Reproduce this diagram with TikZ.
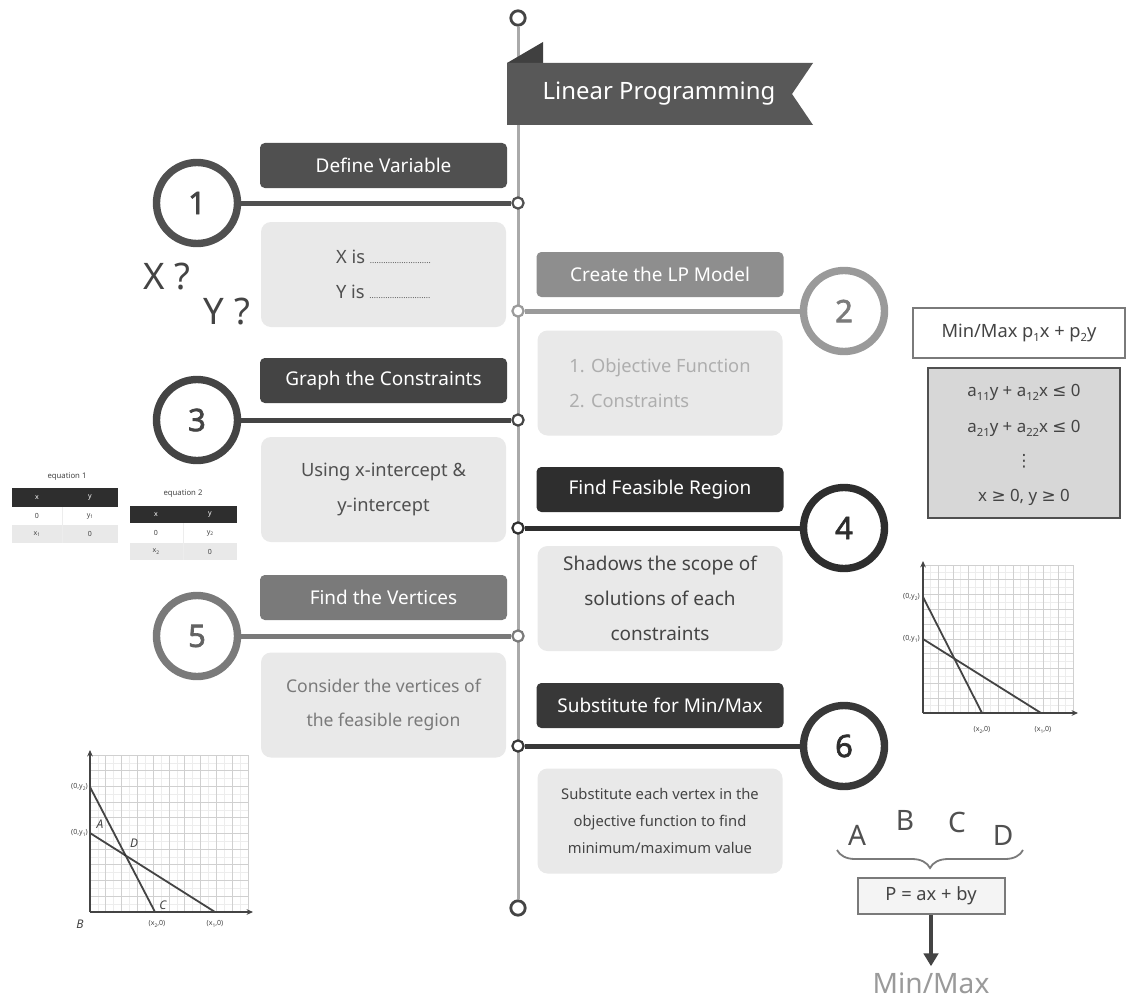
\documentclass[tikz,border=0pt]{standalone}
\usepackage{fontspec}
\setmainfont{Noto Sans}
\newfontfamily\symf{DejaVu Sans}
\newfontfamily\digf{Noto Sans}[FakeBold=2.2]
\usetikzlibrary{arrows.meta,decorations.pathreplacing,shapes.geometric}
\definecolor{spinec}{HTML}{AAAAAA}
\definecolor{bodyfill}{HTML}{E9E9E9}
\definecolor{sa}{HTML}{505050}
\definecolor{sb}{HTML}{9A9A9A}
\definecolor{sc}{HTML}{444444}
\definecolor{sd}{HTML}{2E2E2E}
\definecolor{se}{HTML}{7A7A7A}
\definecolor{sf}{HTML}{383838}
\definecolor{bannerc}{HTML}{585858}
\definecolor{bannerd}{HTML}{404040}
\definecolor{gridc}{HTML}{D0D0D0}
\definecolor{gridf}{HTML}{EDEDED}
\newcommand\sbx[1]{\raisebox{-0.45ex}{\fontsize{8}{8}\selectfont #1}}
\newcommand\tsb[1]{\raisebox{-0.35ex}{\fontsize{3.5}{3.5}\selectfont #1}}
\begin{document}
\begin{tikzpicture}[x=0.25mm,y=-0.25mm,
  circ/.style={circle, inner sep=0pt, minimum size=20.25mm, line width=1.85mm, fill=white, font=\fontsize{22}{22}\digf},
  sdot/.style={circle, inner sep=0pt, minimum size=2.8mm, line width=0.55mm, fill=white},
  enddot/.style={circle, inner sep=0pt, minimum size=3.6mm, line width=0.7mm, draw=sc, fill=white},
  conn/.style={line width=1.25mm},
  ttl/.style={rounded corners=1.2mm, minimum width=61.75mm, minimum height=11.25mm, inner sep=0pt, text=white, font=\fontsize{13.5}{16}\selectfont},
  bdy/.style={rounded corners=2.5mm, fill=bodyfill, minimum width=61.25mm, minimum height=26.25mm, inner sep=0pt, align=center, font=\fontsize{13}{25}\selectfont},
  big/.style={inner sep=0pt, text=sc, font=\fontsize{26}{26}\selectfont},
  tiny/.style={inner sep=0pt, text=sc, font=\fontsize{5}{5}\selectfont},
  cell/.style={inner sep=0pt, font=\fontsize{5}{5}\selectfont},
  axis/.style={line width=0.5mm, draw=sc, -{Stealth[length=1.6mm,width=1.4mm]}},
  gline/.style={line width=0.45mm, draw=sc}
]
\useasboundingbox[fill=white] (0,0) rectangle (1127,1003);

% spine
\node[enddot] (top) at (518,18) {};
\node[enddot] (bot) at (518,908) {};
\draw[spinec, line width=0.75mm] (top) -- (bot);

% banner
\fill[bannerd] (507,63) -- (543,42) -- (543,63) -- cycle;
\fill[bannerc] (507,63) -- (813,63) -- (792,94) -- (813,125) -- (507,125) -- cycle;
\node[inner sep=0pt, text=white, font=\fontsize{17}{17}\selectfont] (lp) at (659,94) {Linear Programming};

% step 1
\node[ttl, fill=sa] (t1) at (383.5,165.5) {Define Variable};
\node[bdy, text=sa, align=left] (b1) at (383.5,274.5) {X is {\fontsize{6}{6}\selectfont ...........................}\\Y is {\fontsize{6}{6}\selectfont ...........................}};
\node[circ, draw=sa, text=sc] (c1) at (197,203) {1};
\node[sdot, draw=sa] (d1) at (518,203) {};
\draw[conn, sa] (c1) -- (d1);
\node[big] (xq) at (167,277) {X ?};
\node[big] (yq) at (227,312) {Y ?};

% step 2
\node[ttl, fill=sb!92!black] (t2) at (660,274.5) {Create the LP Model};
\node[bdy, text=sb!80!white, align=left] (b2) at (660,383) {1. Objective Function\\2. Constraints};
\node[circ, draw=sb, text=sb!80!black] (c2) at (844,311) {2};
\node[sdot, draw=sb] (d2) at (518,311) {};
\draw[conn, sb] (d2) -- (c2);

% step 3
\node[ttl, fill=sc] (t3) at (383.5,380.5) {Graph the Constraints};
\node[bdy, text=sa] (b3) at (383.5,489.5) {Using x-intercept \&\\y-intercept};
\node[circ, draw=sc, text=sc] (c3) at (197,420) {3};
\node[sdot, draw=sc] (d3) at (518,420) {};
\draw[conn, sc] (c3) -- (d3);

% step 4
\node[ttl, fill=sd] (t4) at (660,489.5) {Find Feasible Region};
\node[bdy, text=sc, font=\fontsize{13.5}{25}\selectfont] (b4) at (660,598.5) {Shadows the scope of\\solutions of each\\constraints};
\node[circ, draw=sd, text=sd] (c4) at (844,528) {4};
\node[sdot, draw=sd] (d4) at (518,528) {};
\draw[conn, sd] (d4) -- (c4);

% step 5
\node[ttl, fill=se] (t5) at (383.5,597.5) {Find the Vertices};
\node[bdy, text=se, font=\fontsize{12.5}{24}\selectfont] (b5) at (383.5,705) {Consider the vertices of\\the feasible region};
\node[circ, draw=se, text=se!80!black] (c5) at (197,636) {5};
\node[sdot, draw=se] (d5) at (518,636) {};
\draw[conn, se] (c5) -- (d5);

% step 6
\node[ttl, fill=sf] (t6) at (660,705.5) {Substitute for Min/Max};
\node[bdy, text=sc, font=\fontsize{10.5}{19.5}\selectfont] (b6) at (660,821) {Substitute each vertex in the\\objective function to find\\minimum/maximum value};
\node[circ, draw=sf, text=sd] (c6) at (844,746) {6};
\node[sdot, draw=sf] (d6) at (518,746) {};
\draw[conn, sf] (d6) -- (c6);

% LP model boxes
\node[draw=se, line width=0.5mm, fill=white, minimum width=53mm, minimum height=12.5mm, inner sep=0pt, text=sc, font=\fontsize{13}{13}\selectfont] (obj) at (1019,333) {Min/Max p\sbx{1}x + p\sbx{2}y};
\node[draw=sa, line width=0.5mm, fill=gridc!85!white, minimum width=48mm, minimum height=37.5mm, inner sep=0pt] (cons) at (1024,443) {};
\node[inner sep=0pt, text=sc, font=\fontsize{12}{12}\selectfont] (k1) at (1024,392) {a\sbx{11}y + a\sbx{12}x {\symf ≤} 0};
\node[inner sep=0pt, text=sc, font=\fontsize{12}{12}\selectfont] (k2) at (1024,428) {a\sbx{21}y + a\sbx{22}x {\symf ≤} 0};
\node[inner sep=0pt, text=sc, font=\fontsize{12}{12}\selectfont] (k3) at (1024,461) {{\symf ⋮}};
\node[inner sep=0pt, text=sc, font=\fontsize{12}{12}\selectfont] (k4) at (1024,497) {x {\symf ≥} 0, y {\symf ≥} 0};

% tables
\node[inner sep=0pt, text=sc, font=\fontsize{5.5}{5.5}\selectfont] (e1) at (67,477) {equation 1};
\fill[sd] (12,488) rectangle (118,507);
\fill[white] (12,507) rectangle (118,525);
\fill[bodyfill] (12,525) rectangle (118,543);
\draw[gridf, line width=0.2mm] (62,507) -- (62,543);
\node[cell, text=white] (h1x) at (37,497.5) {x};
\node[cell, text=white] (h1y) at (90,497.5) {y};
\node[cell, text=sc] (r1a) at (37,516) {0};
\node[cell, text=sc] (r1b) at (90,516) {y\tsb{1}};
\node[cell, text=sc] (r1c) at (37,534) {x\tsb{1}};
\node[cell, text=sc] (r1d) at (90,534) {0};

\node[inner sep=0pt, text=sc, font=\fontsize{5.5}{5.5}\selectfont] (e2) at (183,494) {equation 2};
\fill[sd] (130,506) rectangle (237,523);
\fill[white] (130,523) rectangle (237,543);
\fill[bodyfill] (130,543) rectangle (237,560);
\draw[gridf, line width=0.2mm] (183,523) -- (183,560);
\node[cell, text=white] (h2x) at (156,514.5) {x};
\node[cell, text=white] (h2y) at (210,514.5) {y};
\node[cell, text=sc] (r2a) at (156,533) {0};
\node[cell, text=sc] (r2b) at (210,533) {y\tsb{2}};
\node[cell, text=sc] (r2c) at (156,551.5) {x\tsb{2}};
\node[cell, text=sc] (r2d) at (210,551.5) {0};

% right graph
\foreach \i in {0,...,9} {
  \draw[gridf, line width=0.15mm] (930.5+15*\i,565) -- (930.5+15*\i,713);
  \draw[gridf, line width=0.15mm] (923,705.6-14.8*\i) -- (1073,705.6-14.8*\i);
}
\foreach \i in {1,...,10} {
  \draw[gridc, line width=0.25mm] (923+15*\i,565) -- (923+15*\i,713);
  \draw[gridc, line width=0.25mm] (923,713-14.8*\i) -- (1073,713-14.8*\i);
}
\coordinate (ro) at (923,713);
\coordinate (ry) at (923,561);
\coordinate (rx) at (1078,713);
\draw[axis] (ro) -- (ry);
\draw[axis] (ro) -- (rx);
\coordinate (ry2) at (923,597);
\coordinate (rx2) at (982,713);
\coordinate (ry1) at (923,639);
\coordinate (rx1) at (1041,713);
\draw[gline] (ry2) -- (rx2);
\draw[gline] (ry1) -- (rx1);
\node[tiny, anchor=east] (lry2) at (920,597) {(0,y\tsb{2})};
\node[tiny, anchor=east] (lry1) at (920,639) {(0,y\tsb{1})};
\node[tiny] (lrx2) at (982,730) {(x\tsb{2},0)};
\node[tiny] (lrx1) at (1043,730) {(x\tsb{1},0)};

% left graph
\foreach \i in {0,...,9} {
  \draw[gridf, line width=0.15mm] (97.9+15.8*\i,755) -- (97.9+15.8*\i,912);
  \draw[gridf, line width=0.15mm] (90,904.15-15.7*\i) -- (248,904.15-15.7*\i);
}
\foreach \i in {1,...,10} {
  \draw[gridc, line width=0.25mm] (90+15.8*\i,755) -- (90+15.8*\i,912);
  \draw[gridc, line width=0.25mm] (90,912-15.7*\i) -- (248,912-15.7*\i);
}
\coordinate (lo) at (90,912);
\coordinate (ly) at (90,750);
\coordinate (lx) at (253,912);
\draw[axis] (lo) -- (ly);
\draw[axis] (lo) -- (lx);
\coordinate (ly2) at (90,787);
\coordinate (lx2) at (155,912);
\coordinate (ly1) at (90,833);
\coordinate (lx1) at (215,912);
\draw[gline] (ly2) -- (lx2);
\draw[gline] (ly1) -- (lx1);
\fill[sd] (125,855) circle (1.3);
\node[tiny, anchor=east] (lly2) at (88,787) {(0,y\tsb{2})};
\node[tiny, anchor=east] (lly1) at (88,833) {(0,y\tsb{1})};
\node[tiny] (llx2) at (157,924) {(x\tsb{2},0)};
\node[tiny] (llx1) at (215,924) {(x\tsb{1},0)};
\node[inner sep=0pt, text=sc, font=\fontsize{8.5}{8.5}\selectfont\itshape] (va) at (100,824) {A};
\node[inner sep=0pt, text=sc, font=\fontsize{8.5}{8.5}\selectfont\itshape] (vd) at (134,843) {D};
\node[inner sep=0pt, text=sc, font=\fontsize{8.5}{8.5}\selectfont\itshape] (vc) at (163,905) {C};
\node[inner sep=0pt, text=sc, font=\fontsize{8.5}{8.5}\selectfont\itshape] (vb) at (80,924) {B};

% substitution
\node[inner sep=0pt, text=sa, font=\fontsize{20}{20}\selectfont] (pa) at (857,835) {A};
\node[inner sep=0pt, text=sa, font=\fontsize{20}{20}\selectfont] (pb) at (905,820) {B};
\node[inner sep=0pt, text=sa, font=\fontsize{20}{20}\selectfont] (pc) at (957,822) {C};
\node[inner sep=0pt, text=sa, font=\fontsize{20}{20}\selectfont] (pd) at (1003,835) {D};
\coordinate (brl) at (837,850);
\coordinate (brr) at (1023,850);
\draw[decorate, decoration={brace, amplitude=4.5mm}, line width=0.45mm, se] (brr) -- (brl);
\node[draw=se, line width=0.5mm, fill=gridf!60!white, minimum width=36.75mm, minimum height=9mm, inner sep=0pt, text=sc, font=\fontsize{13}{13}\selectfont] (pbox) at (931,896) {P = ax + by};
\node[inner sep=0pt, text=sb, font=\fontsize{20}{20}\selectfont] (mm) at (931,983) {Min/Max};
\draw[line width=0.8mm, sc, -{Triangle[length=3.2mm,width=3.6mm]}, shorten >=1.5mm] (pbox) -- (mm);
\end{tikzpicture}
\end{document}
